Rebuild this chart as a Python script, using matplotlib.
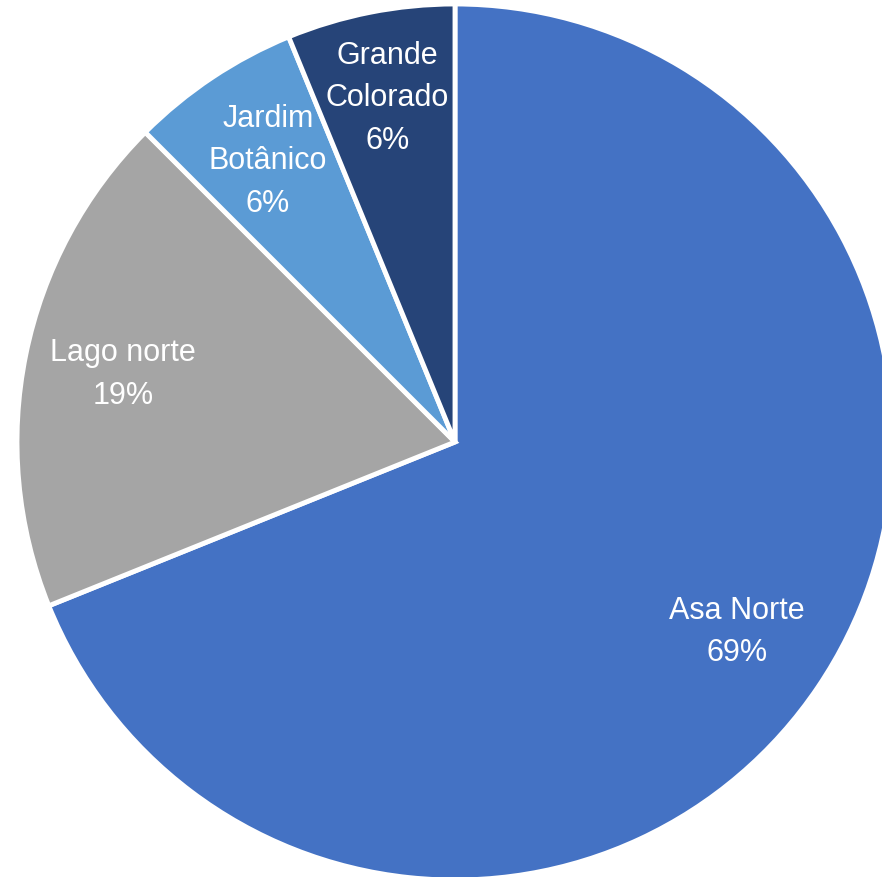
import numpy as np
import matplotlib.pyplot as plt

# share of sites by region (percent)
regions = ['Asa Norte', 'Lago norte', 'Jardim\nBotânico', 'Grande\nColorado']
shares = [68.9, 18.6, 6.3, 6.2]
colors = ['#4472C4', '#A5A5A5', '#5B9BD5', '#264478']
label_radius = [0.776, 0.774, 0.77, 0.80]

fig = plt.figure(figsize=(8.82, 8.77), dpi=100)
ax = fig.add_axes([0, 0, 1, 1])

wedges, _ = ax.pie(shares, colors=colors, startangle=90, counterclock=False,
                   radius=1.0, wedgeprops=dict(edgecolor='white', linewidth=3.5))

# labels sit on the bisector of each wedge
for w, name, pct, r in zip(wedges, regions, shares, label_radius):
    mid = np.deg2rad((w.theta1 + w.theta2) / 2)
    ax.text(r * np.cos(mid), r * np.sin(mid), f"{name}\n{pct:.0f}%", ha='center', va='center',
            color='white', fontsize=22, linespacing=1.55, family='Liberation Sans')

ax.set_xlim(-455 / 438, 427 / 438)
ax.set_ylim(-435 / 438, 442 / 438)
ax.set_aspect('equal')
ax.axis('off')
fig.savefig('out.png', dpi=100)
